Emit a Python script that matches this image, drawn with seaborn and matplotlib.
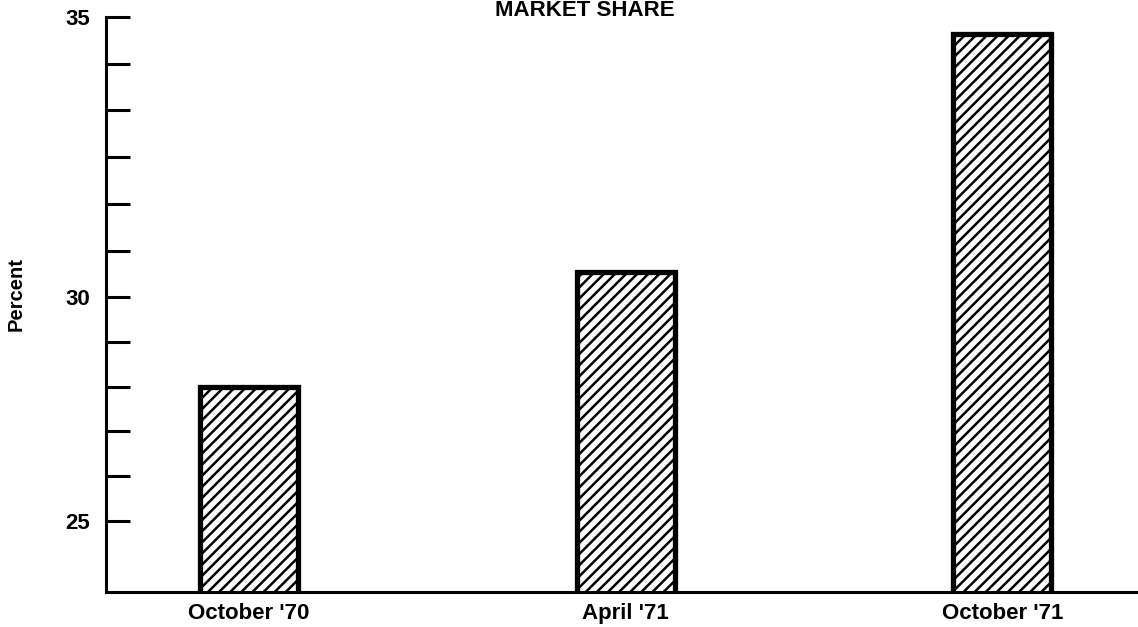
"""
MARKET SHARE の棒グラフ
"""
import matplotlib
matplotlib.use('Agg')
import matplotlib.pyplot as plt
import seaborn as sns
import numpy as np

sns.set_style("ticks")
plt.rcParams['font.family'] = ['Liberation Sans', 'DejaVu Sans']
plt.rcParams['hatch.linewidth'] = 1.8
plt.rcParams['text.color'] = 'black'
plt.rcParams['axes.labelcolor'] = 'black'
plt.rcParams['axes.edgecolor'] = 'black'
plt.rcParams['xtick.color'] = 'black'
plt.rcParams['ytick.color'] = 'black'

# データ
periods = ["October '70", "April '71", "October '71"]
share = [28.0, 30.45, 34.7]
major_ticks = [25, 30, 35]
tick_labels = ['25', '30', '35']

# 元の図は 30 より上の目盛り間隔が広い（6 区間で 5 ポイント）
K = 280 / 223


def forward(y):
    y = np.asarray(y, dtype=float)
    return np.where(y <= 30, y, 30 + (y - 30) * K)


def inverse(u):
    u = np.asarray(u, dtype=float)
    return np.where(u <= 30, u, 30 + (u - 30) / K)


W, H = 1138, 627
fig = plt.figure(figsize=(W / 100, H / 100), dpi=100)
ax = fig.add_axes([106 / W, (H - 592) / H, 1 - 106 / W, (592 - 17) / H])

sns.barplot(x=periods, y=share, color='white', saturation=1, edgecolor='black',
            linewidth=3.8, width=0.26, ax=ax)
for p in ax.patches:
    p.set_hatch('///')

ax.set_yscale('function', functions=(forward, inverse))
ax.set_ylim(23.4, 35.0)
ax.set_xlim(-0.38, 2.36)

# 目盛り（30 までは 1 ポイント刻み、30 より上は 6 等分）
minor = [26, 27, 28, 29] + [float(inverse(30 + k * 5 * K / 6)) for k in range(1, 6)]
ax.set_yticks(major_ticks)
ax.set_yticklabels(tick_labels)
ax.set_yticks(minor, minor=True)
ax.tick_params(axis='y', which='both', direction='in', length=17, width=2.2,
               pad=11.5, labelsize=16)
ax.tick_params(axis='x', length=0, pad=8, labelsize=16)
for lab in ax.get_xticklabels() + ax.get_yticklabels():
    lab.set_fontweight('bold')

ax.spines['top'].set_visible(False)
ax.spines['right'].set_visible(False)
ax.spines['left'].set_linewidth(2.2)
ax.spines['bottom'].set_linewidth(2.2)

ax.set_xlabel('')
ax.set_ylabel('Percent', fontsize=14.5, fontweight='bold')
ax.yaxis.set_label_coords(-80 / 1032, 0.518)

fig.text(585 / W, 1 - 16 / H, 'MARKET SHARE', ha='center', va='baseline',
         fontsize=16, fontweight='bold')

fig.savefig('out.png', dpi=100)
plt.close(fig)
